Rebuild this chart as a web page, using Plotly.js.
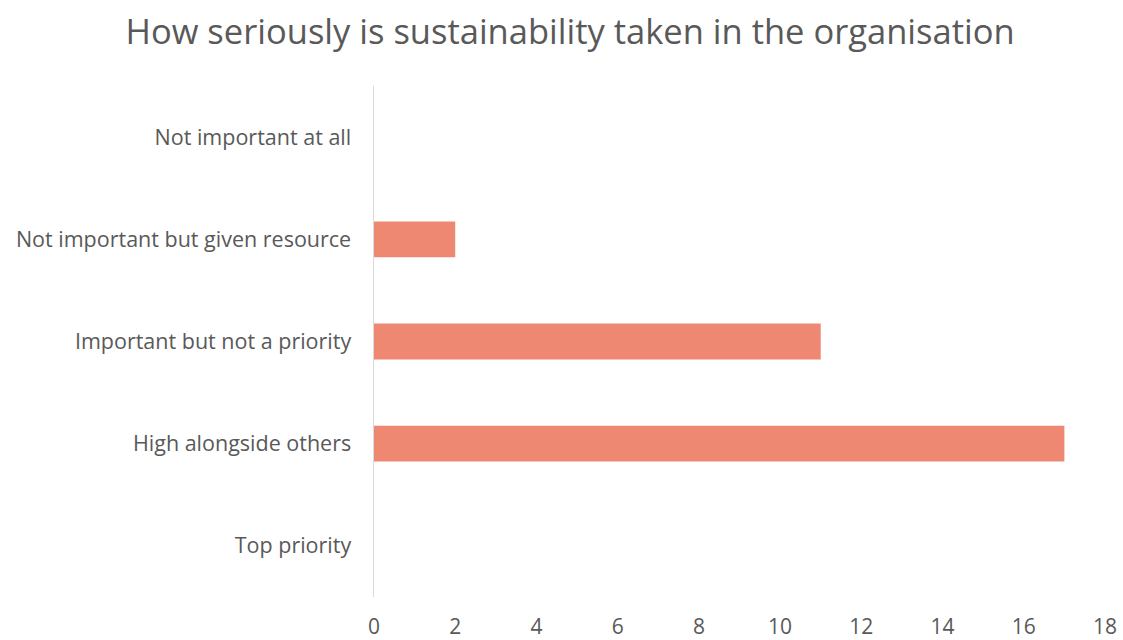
<!DOCTYPE html>
<html>
<head>
<meta charset="utf-8">
<script src="https://cdn.plot.ly/plotly-3.0.1.min.js"></script>
<style>html,body{margin:0;padding:0;background:#fff;}#chart{width:1123px;height:640px;}</style>
</head>
<body>
<div id="chart"></div>
<script>
const chartTitle = "How seriously is sustainability taken in the organisation";
const categories = [
  "Not important at all",
  "Not important but given resource",
  "Important but not a priority",
  "High alongside others",
  "Top priority"
];
const counts = [0, 2, 11, 17, 0];
const xTicks = [0, 2, 4, 6, 8, 10, 12, 14, 16, 18];

const FONT = "'Open Sans', sans-serif";
const GREY = "#595959";

Plotly.newPlot("chart", [{
  type: "bar",
  orientation: "h",
  y: categories,
  x: counts,
  marker: { color: "#EE8873", line: { width: 0 } },
  hoverinfo: "x+y"
}], {
  width: 1123,
  height: 640,
  margin: { l: 374, r: 18, t: 86, b: 43, pad: 0 },
  paper_bgcolor: "#fff",
  plot_bgcolor: "#fff",
  bargap: 0.65,
  showlegend: false,
  title: {
    text: chartTitle,
    font: { family: FONT, size: 34.5, color: GREY },
    x: 0.5076, xanchor: "center",
    y: 0.95, yanchor: "middle"
  },
  xaxis: {
    range: [0, 18],
    tickmode: "array",
    tickvals: xTicks,
    ticktext: xTicks.map(String),
    showgrid: false,
    zeroline: false,
    showline: false,
    ticks: "",
    ticklabelstandoff: 15,
    tickfont: { family: FONT, size: 21, color: GREY },
    fixedrange: true
  },
  yaxis: {
    type: "category",
    autorange: "reversed",
    showgrid: false,
    zeroline: false,
    showline: true,
    linecolor: "#D9D9D9",
    linewidth: 1.5,
    ticks: "",
    ticklabelstandoff: 17,
    tickfont: { family: FONT, size: 21.5, color: GREY },
    fixedrange: true
  }
}, { displayModeBar: false, staticPlot: true });
</script>
</body>
</html>
